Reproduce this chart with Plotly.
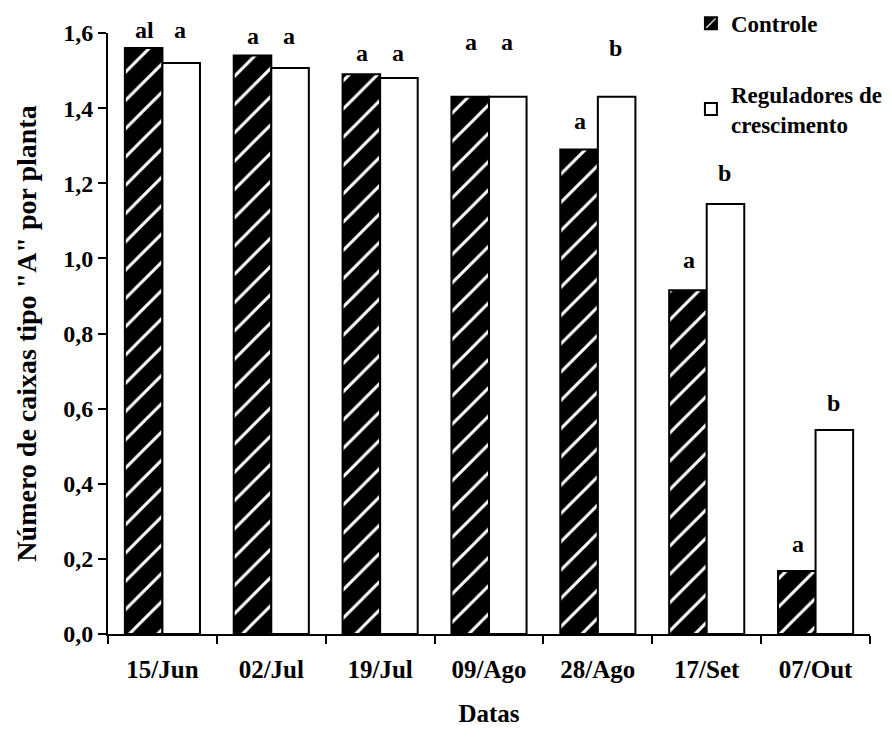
import plotly.graph_objects as go

datas = ["15/Jun", "02/Jul", "19/Jul", "09/Ago", "28/Ago", "17/Set", "07/Out"]
controle = [1.56, 1.54, 1.49, 1.43, 1.29, 0.915, 0.168]
reguladores = [1.52, 1.507, 1.48, 1.43, 1.43, 1.145, 0.543]

letras_controle = ["al", "a", "a", "a", "a", "a", "a"]
letras_reguladores = ["a", "a", "a", "a", "b", "b", "b"]
# altura das letras (unidades do eixo y)
y_letras_controle = [1.608, 1.592, 1.547, 1.576, 1.366, 0.996, 0.24]
y_letras_reguladores = [1.608, 1.592, 1.547, 1.576, 1.56, 1.227, 0.615]

fonte = "Liberation Serif"
y_max = 1.6
altura_plot = 737 - 25 - 111
px_por_unidade = altura_plot / y_max

fig = go.Figure()
fig.add_trace(go.Bar(
    x=datas, y=controle, name="<b>Controle</b>", legendgroup="c",
    marker=dict(color="black", line=dict(color="black", width=2),
                pattern=dict(shape="/", fgcolor="white", bgcolor="black",
                             fgopacity=1, fillmode="replace",
                             size=20, solidity=0.15)),
))
fig.add_trace(go.Bar(
    x=datas, y=reguladores, name="<b>Reguladores de<br>crescimento</b>",
    legendgroup="r",
    marker=dict(color="white", line=dict(color="black", width=2)),
))


def letra(x, y, texto, desloc):
    # annotations above the axis range are hidden, so cap and shift in px
    yy = min(y, y_max)
    fig.add_annotation(x=x, y=yy, yshift=(y - yy) * px_por_unidade,
                       text="<b>" + texto + "</b>", xshift=desloc,
                       showarrow=False, yanchor="middle",
                       font=dict(family=fonte, size=24, color="black"))


for i, d in enumerate(datas):
    letra(d, y_letras_controle[i], letras_controle[i], -18)
    letra(d, y_letras_reguladores[i], letras_reguladores[i], 18)

fig.update_layout(
    width=892, height=737,
    margin=dict(l=100, r=30, t=25, b=111, autoexpand=False),
    plot_bgcolor="white", paper_bgcolor="white",
    barmode="group", bargap=0.31, bargroupgap=0,
    separators=",.",
    font=dict(family=fonte, size=22, color="black"),
    legend=dict(x=0.765, y=1.052, xanchor="left", yanchor="top",
                bgcolor="rgba(0,0,0,0)", traceorder="grouped",
                tracegroupgap=38, font=dict(family=fonte, size=23)),
    xaxis=dict(showline=True, linecolor="black", linewidth=2,
               ticks="outside", tickson="boundaries", ticklen=8,
               tickwidth=2, tickcolor="black", ticklabelstandoff=12,
               tickfont=dict(family=fonte, size=25),
               title=dict(text="<b>Datas</b>", standoff=22,
                          font=dict(family=fonte, size=25))),
    yaxis=dict(range=[0, y_max], dtick=0.2, tickformat=".1f",
               showline=True, linecolor="black", linewidth=2,
               ticks="outside", ticklen=8, tickwidth=2, tickcolor="black",
               showgrid=False, zeroline=False,
               tickfont=dict(family=fonte, size=24),
               title=dict(text="<b>Número de caixas tipo \"A\" por planta</b>",
                          standoff=18, font=dict(family=fonte, size=28))),
)
fig.update_xaxes(tickprefix="<b>", ticksuffix="</b>")
fig.update_yaxes(tickprefix="<b>", ticksuffix="</b>")

fig.write_html("out.html")
